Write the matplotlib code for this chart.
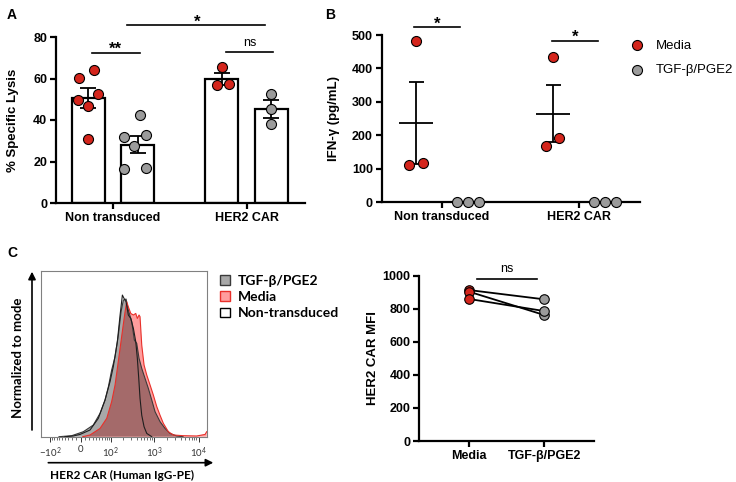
import numpy as np
import matplotlib
matplotlib.use('Agg')
import matplotlib.pyplot as plt
from matplotlib.patches import Polygon, Patch

W, H = 736, 482
plt.rcParams['font.family'] = ['Liberation Sans', 'DejaVu Sans']
plt.rcParams['font.weight'] = 'bold'
plt.rcParams['axes.labelweight'] = 'bold'
plt.rcParams['mathtext.fontset'] = 'custom'
plt.rcParams['mathtext.rm'] = 'Lato'
plt.rcParams['mathtext.bf'] = 'Lato:bold'

# ---------------- data ----------------
groups = ['Non transduced', 'HER2 CAR']
lysis_media = [[60.4, 64.3, 49.8, 46.6, 52.4, 30.8], [65.5, 56.7, 57.2]]
lysis_tgf = [[42.4, 31.8, 32.9, 27.5, 16.5, 16.9], [52.7, 45.5, 37.9]]

ifng_media = [[483, 110, 117], [433, 169, 191]]
ifng_tgf = [[0, 0, 0], [0, 0, 0]]
legend_labels = ['Media', 'TGF-β/PGE2']

mfi_labels = ['Media', 'TGF-β/PGE2']
mfi_media = [913, 903, 859]
mfi_tgf = [857, 762, 786]

hist_legend = ['TGF-β/PGE2', 'Media', 'Non-transduced']
hist_ticks = [-100, 0, 100, 1000, 10000]
hist_ticklabels = [r'$\mathregular{-10^{2}}$', '0', r'$\mathregular{10^{2}}$',
                   r'$\mathregular{10^{3}}$', r'$\mathregular{10^{4}}$']
hist_minor = ([-90, -80, -70, -60, -50, -40, -30, -20, -10,
               10, 20, 30, 40, 50, 60, 70, 80, 90] +
              [200, 300, 400, 500, 600, 700, 800, 900] +
              [2000, 3000, 4000, 5000, 6000, 7000, 8000, 9000])

# histogram curves (fluorescence, % of mode)
nt_x = [-40, -16.8, -1.1, 22.5, 46.5, 72, 96.6, 116, 145, 168, 190, 207, 231,
        260, 296, 339, 384, 417, 449, 480, 525, 592, 681, 884]
nt_y = [0, 0.5, 1.6, 4.7, 12.9, 25.7, 38.6, 49.1, 66.7, 85.4, 99.4, 97.1, 94.7,
        85.4, 83.0, 76.1, 66.7, 55.0, 40.9, 26.9, 15.0, 7.0, 2.3, 0]
tgf_x = [-60, -20.8, 6.4, 31.3, 52.4, 72, 88, 106, 128, 153, 177, 200, 231, 260,
         311, 357, 404, 456, 525, 623, 740, 884, 1050, 1361, 1761, 2283, 3231, 4500]
tgf_y = [0, 0.7, 3.5, 8.2, 16.4, 25.7, 35.1, 46.8, 56.1, 71.3, 87.7, 95.9, 96.6, 88.9,
         80.7, 67.8, 65.5, 55.0, 47.9, 40.9, 33.9, 25.7, 17.5, 10.5, 5.8, 2.3, 0.5, 0]
med_x = [5, 22.5, 52.4, 80, 106, 128, 145, 168, 194, 219, 239, 260, 296, 339, 384,
         417, 456, 480, 525, 592, 681, 809, 960, 1146, 1361, 1612, 2090, 2709, 4552,
         9130, 14050, 15300]
med_y = [0, 1.2, 5.8, 12.9, 24.6, 36.3, 47.9, 62.0, 76.1, 87.7, 94.7, 91.2, 86.5, 85.4,
         86.5, 83.0, 85.4, 84.2, 64.3, 50.3, 43.3, 36.3, 29.2, 21.1, 15.0, 9.4, 3.5, 1.2,
         0.7, 0.5, 1.6, 3.5]

# ---------------- layout (point jitter, positions) ----------------
jit_a_media = [[-0.068, 0.045, -0.075, 0.0, 0.075, -0.005], [0.005, -0.038, 0.055]]
jit_a_tgf = [[0.017, -0.103, 0.06, -0.028, -0.103, 0.06], [0.0, 0.0, 0.0]]
jit_b_media = [[0.0, -0.049, 0.049], [0.0, -0.049, 0.044]]
jit_b_tgf = [[-0.08, 0.0, 0.08], [-0.08, 0.0, 0.078]]

RED = '#d4251c'
GRAY = '#9b9b9b'
SP = 1.6

fig = plt.figure(figsize=(W / 100, H / 100), dpi=100)


def rect(l, t, r, b):
    return [l / W, 1 - b / H, (r - l) / W, (b - t) / H]


axA = fig.add_axes(rect(56, 37, 305, 203))
axB = fig.add_axes(rect(381.7, 35, 640, 202))
axH = fig.add_axes(rect(41, 270.7, 206.7, 436.7))
axM = fig.add_axes(rect(419.3, 275.7, 594, 441))


def prism(ax):
    for s in ['top', 'right']:
        ax.spines[s].set_visible(False)
    for s in ['left', 'bottom']:
        ax.spines[s].set_linewidth(SP)
    ax.tick_params(direction='out', length=4.3, width=SP, labelsize=9, pad=2)


def sem(v):
    v = np.asarray(v, float)
    return v.std(ddof=1) / np.sqrt(len(v))


# ---------------- Panel A ----------------
prism(axA)
xg = np.arange(len(groups))
off, bw = 0.185, 0.247
for i in range(len(groups)):
    for vals, jit, o, col in [(lysis_media[i], jit_a_media[i], -off, RED),
                              (lysis_tgf[i], jit_a_tgf[i], off, GRAY)]:
        v = np.asarray(vals)
        m = v.mean()
        axA.bar(xg[i] + o, m, width=bw, color='white', edgecolor='black',
                linewidth=SP, zorder=1)
        axA.errorbar(xg[i] + o, m, yerr=sem(v), color='black', lw=1.3,
                     capsize=6, capthick=1.3, zorder=2)
        axA.scatter(xg[i] + o + np.asarray(jit), v, s=52, c=col,
                    edgecolors='black', linewidths=0.8, zorder=3)
axA.set_xlim(-0.427, 1.438)
axA.set_ylim(0, 80)
axA.set_yticks([0, 20, 40, 60, 80])
axA.set_xticks(xg)
axA.set_xticklabels(groups)
axA.set_ylabel('% Specific Lysis', fontsize=9.5, fontweight='bold', va='center')
axA.yaxis.set_label_coords(-0.171, 0.5)

sigA = [(-0.157, 0.202, 72.3, '**', 0.015),
        (0.105, 1.139, 85.6, '*', 0.629),
        (0.846, 1.199, 72.8, 'ns', 1.026)]
for x1, x2, y, t, xt in sigA:
    axA.plot([x1, x2], [y, y], color='black', lw=1.2, clip_on=False)
    if t == 'ns':
        axA.text(xt, y + 2.9, t, ha='center', va='baseline', fontsize=9,
                 fontweight='normal')
    else:
        axA.text(xt, y - 0.5, t, ha='center', va='baseline', fontsize=12)

# ---------------- Panel B ----------------
prism(axB)
offb = 0.19
handles = []
for i in range(len(groups)):
    for vals, jit, o, col in [(ifng_media[i], jit_b_media[i], -offb, RED),
                              (ifng_tgf[i], jit_b_tgf[i], offb, GRAY)]:
        v = np.asarray(vals, float)
        m = v.mean()
        xc = xg[i] + o
        axB.hlines(m, xc - 0.124, xc + 0.124, color='black', lw=1.3, zorder=2)
        axB.errorbar(xc, m, yerr=sem(v), color='black', lw=1.3, capsize=5.4,
                     capthick=1.3, zorder=2)
        h = axB.scatter(xc + np.asarray(jit), v, s=52, c=col, edgecolors='black',
                        linewidths=0.8, zorder=4, clip_on=False)
        if i == 0:
            handles.append(h)
axB.set_xlim(-0.44, 1.445)
axB.set_ylim(0, 500)
axB.set_yticks([0, 100, 200, 300, 400, 500])
axB.set_xticks(xg)
axB.set_xticklabels(groups)
axB.set_ylabel('IFN-γ (pg/mL)', fontsize=9.5, fontweight='bold', va='center')
axB.yaxis.set_label_coords(-0.185, 0.5)
sigB = [(-0.204, 0.131, 523, '*', -0.036), (0.803, 1.139, 483, '*', 0.971)]
for x1, x2, y, t, xt in sigB:
    axB.plot([x1, x2], [y, y], color='black', lw=1.2, clip_on=False)
    axB.text(xt, y - 3, t, ha='center', va='baseline', fontsize=12)
axB.legend(handles, legend_labels, loc='upper left',
           bbox_to_anchor=(630.4 / W, 1 - 39.5 / H), bbox_transform=fig.transFigure,
           frameon=False, borderpad=0, borderaxespad=0, handlelength=1.0,
           handletextpad=0.94, labelspacing=0.92, scatterpoints=1,
           prop={'size': 9.5, 'weight': 'normal'})

# ---------------- Panel C histogram ----------------
C0 = 43.9


def fwd(x):
    return np.arcsinh(np.asarray(x, float) / C0)


def inv(u):
    return C0 * np.sinh(np.asarray(u, float))


axH.set_xscale('function', functions=(fwd, inv))
axH.set_xlim(-168, 15300)
axH.set_ylim(0, 116.5)


def closed(xs, ys):
    return np.column_stack([list(xs) + [xs[-1], xs[0]], list(ys) + [0, 0]])


p_tgf = Polygon(closed(tgf_x, tgf_y), closed=True, facecolor='#a8a8a8',
                edgecolor='none', zorder=1)
axH.add_patch(p_tgf)
p_med = Polygon(closed(med_x, med_y), closed=True, facecolor='#ff9d9d',
                edgecolor='none', zorder=2)
axH.add_patch(p_med)
p_both = Polygon(closed(med_x, med_y), closed=True, facecolor='#a46a6a',
                 edgecolor='none', zorder=3)
axH.add_patch(p_both)
p_both.set_clip_path(p_tgf)
axH.plot(tgf_x, tgf_y, color='#3a3a3a', lw=0.8, zorder=4)
axH.plot(med_x, med_y, color='#e8302a', lw=0.8, zorder=5)
axH.plot(nt_x, nt_y, color='#1e1e1e', lw=0.8, zorder=6)

for s in axH.spines.values():
    s.set_color('#808080')
    s.set_linewidth(0.8)
axH.set_yticks([])
axH.set_xticks(hist_ticks)
axH.set_xticklabels(hist_ticklabels)
axH.set_xticks(hist_minor, minor=True)
axH.tick_params(axis='x', which='major', direction='out', length=3.5, width=0.7,
                color='#333333', labelsize=7, labelcolor='#333333', pad=2.5)
axH.tick_params(axis='x', which='minor', direction='out', length=2, width=0.5,
                color='#333333')
for lab in axH.get_xticklabels():
    lab.set_fontfamily('Lato')
    lab.set_fontweight('normal')

axH.annotate('', xy=(32, H - 271.7), xytext=(32, H - 430), xycoords='figure pixels',
             textcoords='figure pixels', annotation_clip=False,
             arrowprops=dict(arrowstyle='-|>', color='black', lw=1.2,
                             mutation_scale=11, shrinkA=0, shrinkB=0))
axH.annotate('', xy=(213.3, H - 462.7), xytext=(48.3, H - 462.7), xycoords='figure pixels',
             textcoords='figure pixels', annotation_clip=False,
             arrowprops=dict(arrowstyle='-|>', color='black', lw=1.2,
                             mutation_scale=11, shrinkA=0, shrinkB=0))
fig.text(17.7 / W, 1 - 358 / H, 'Normalized to mode', rotation=90, ha='center',
         va='center', fontsize=9.5, fontfamily='Lato', fontweight='bold')
fig.text(122 / W, 1 - 475 / H, 'HER2 CAR (Human IgG-PE)', ha='center', va='center',
         fontsize=8.5, fontfamily='Lato', fontweight='bold')

hist_handles = [Patch(facecolor='#a8a8a8', edgecolor='#3a3a3a', lw=1.0),
                Patch(facecolor='#ff9d9d', edgecolor='#e8302a', lw=1.0),
                Patch(facecolor='white', edgecolor='black', lw=1.0)]
axH.legend(hist_handles, hist_legend, loc='upper left',
           bbox_to_anchor=(220 / W, 1 - 275 / H), bbox_transform=fig.transFigure,
           frameon=False, borderpad=0, borderaxespad=0, handlelength=0.7,
           handleheight=0.7, handletextpad=0.56, labelspacing=0.3,
           prop={'family': 'Lato', 'weight': 'bold', 'size': 10})

# ---------------- Panel C MFI ----------------
prism(axM)
xm = np.arange(len(mfi_labels))
for a, b in zip(mfi_media, mfi_tgf):
    axM.plot(xm, [a, b], color='black', lw=1.3, zorder=2)
axM.scatter(np.full(len(mfi_media), xm[0]), mfi_media, s=47, c=RED,
            edgecolors='black', linewidths=0.8, zorder=3)
axM.scatter(np.full(len(mfi_tgf), xm[1]), mfi_tgf, s=47, c=GRAY,
            edgecolors='black', linewidths=0.8, zorder=3)
axM.set_xlim(-0.667, 1.663)
axM.set_ylim(0, 1000)
axM.set_yticks([0, 200, 400, 600, 800, 1000])
axM.set_xticks(xm)
axM.set_xticklabels(mfi_labels)
axM.set_ylabel('HER2 CAR MFI', fontsize=9.5, fontweight='bold', va='center')
axM.yaxis.set_label_coords(-0.265, 0.5)
axM.plot([0.103, 0.903], [978, 978], color='black', lw=1.2, clip_on=False)
axM.text(0.499, 1024, 'ns', ha='center', va='baseline', fontsize=9,
         fontweight='normal')

# panel letters
fig.text(7 / W, 1 - 18.7 / H, 'A', fontsize=10, fontweight='bold', va='baseline')
fig.text(325 / W, 1 - 18.7 / H, 'B', fontsize=10, fontweight='bold', va='baseline')
fig.text(7 / W, 1 - 257 / H, 'C', fontsize=10, fontweight='bold', va='baseline')

fig.savefig('out.png', dpi=100)
